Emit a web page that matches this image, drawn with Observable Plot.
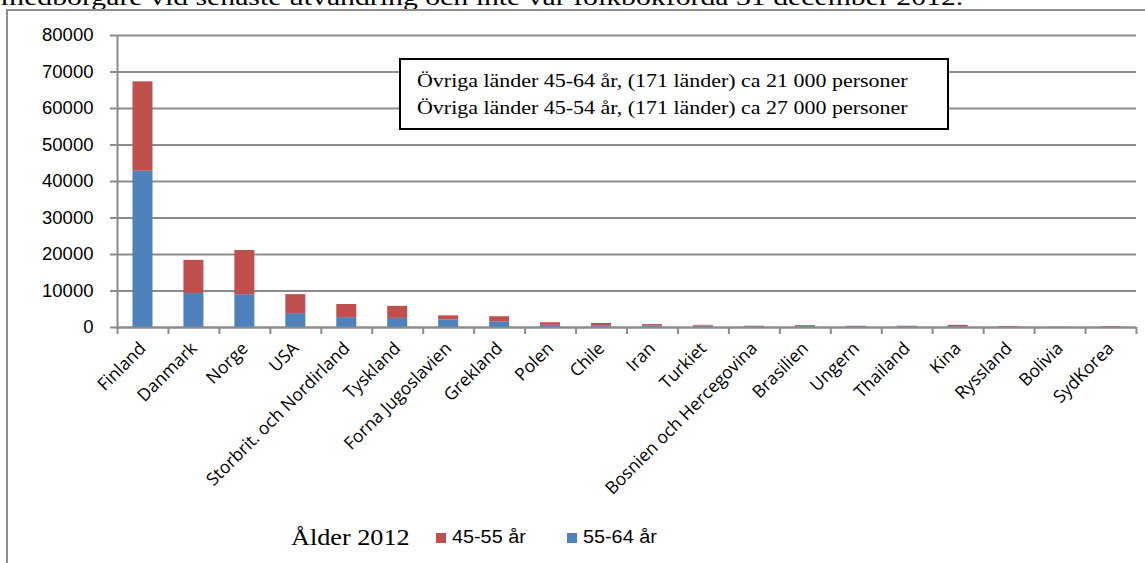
<!DOCTYPE html>
<html>
<head>
<meta charset="utf-8">
<script src="https://cdn.jsdelivr.net/npm/d3@7"></script>
<script src="https://cdn.jsdelivr.net/npm/@observablehq/plot@0.6"></script>
<style>
  body { margin: 0; background: #fff; }
  #wrap { position: relative; width: 1145px; height: 563px; overflow: hidden; background: #fff; }
  #title { position: absolute; left: 1px; top: -16px; font: 24px "Liberation Serif", serif; white-space: nowrap; color: #000;
           transform: scaleX(1.24); transform-origin: 0 0; }
  #frame { position: absolute; left: 6px; top: 9px; width: 1300px; height: 700px; border: 2px solid #8e8e8e; box-sizing: border-box; }
  #chart { position: absolute; left: 0; top: 0; }
  #note { position: absolute; left: 399px; top: 58px; width: 550px; height: 72px; border: 2px solid #000; background: #fff;
          box-sizing: border-box; padding: 8px 0 0 16px; color: #000; }
  #note div { font: 18px "Liberation Serif", serif; line-height: 27px; white-space: nowrap;
              transform: scaleX(1.22); transform-origin: 0 0; }
  #legend { position: absolute; left: 0; top: 0; width: 1145px; height: 563px; color: #000; }
  #legend span { position: absolute; white-space: nowrap; }
  #legend .head { font: 23px "Liberation Serif", serif; transform: scaleX(1.14); transform-origin: 0 0; }
  #legend .lbl { font: 18px "Liberation Sans", sans-serif; transform: scaleX(1.1); transform-origin: 0 0; }
  #legend .sw { width: 10px; height: 10px; }
</style>
</head>
<body>
<div id="wrap">
  <div id="title">medborgare vid senaste utvandring och inte var folkbokförda 31 december 2012.</div>
  <div id="frame"></div>
  <div id="chart"></div>
  <div id="note">
    <div>Övriga länder 45-64 år, (171 länder) ca 21 000 personer</div>
    <div>Övriga länder 45-54 år, (171 länder) ca 27 000 personer</div>
  </div>
  <div id="legend"></div>
</div>
<script>
// Countries of emigration, ordered as in the report
const countries = ["Finland", "Danmark", "Norge", "USA", "Storbrit. och Nordirland", "Tyskland",
  "Forna Jugoslavien", "Grekland", "Polen", "Chile", "Iran", "Turkiet", "Bosnien och Hercegovina",
  "Brasilien", "Ungern", "Thailand", "Kina", "Ryssland", "Bolivia", "SydKorea"];

// Persons aged 55-64 (bottom segment)
const age55to64 = [42800, 9300, 9000, 3800, 2700, 2500, 2100, 1550, 600, 500, 400, 400, 150, 200, 150, 150, 250, 100, 50, 100];
// Persons aged 45-55 (top segment)
const age45to55 = [24500, 9100, 12100, 5200, 3600, 3300, 1100, 1400, 700, 600, 400, 200, 200, 300, 200, 200, 350, 200, 50, 150];

const seriesNames = ["45-55 år", "55-64 år"];
const seriesColors = ["#C0504D", "#4F81BD"];
const yTicks = [0, 10000, 20000, 30000, 40000, 50000, 60000, 70000, 80000];

// Stack the two age groups per country
const rows = countries.flatMap((c, i) => [
  {i, country: c, group: "55-64 år", y1: 0, y2: age55to64[i]},
  {i, country: c, group: "45-55 år", y1: age55to64[i], y2: age55to64[i] + age45to55[i]}
]);

const W = 1145, H = 563;
const ml = 117, mr = 9, mt = 35, mb = 236;
const n = countries.length;
const step = (W - ml - mr) / n;
const barW = 20;
const inset = (step - barW) / 2;
const gray = "#8c8c8c";

const chart = Plot.plot({
  width: W,
  height: H,
  marginLeft: ml,
  marginRight: mr,
  marginTop: mt,
  marginBottom: mb,
  style: {background: "transparent", fontFamily: "Liberation Sans, sans-serif", color: "#000"},
  x: {type: "linear", domain: [0, n]},
  y: {domain: [0, 80000]},
  color: {domain: seriesNames, range: seriesColors},
  marks: [
    Plot.gridY({ticks: yTicks, stroke: gray, strokeOpacity: 1, strokeWidth: 2}),
    Plot.rect(rows, {x1: d => d.i, x2: d => d.i + 1, y1: "y1", y2: "y2", fill: "group",
      insetLeft: inset, insetRight: inset}),
    Plot.ruleX([0], {stroke: gray, strokeWidth: 2}),
    Plot.ruleY([0], {stroke: gray, strokeWidth: 2}),
    Plot.axisY({ticks: yTicks, tickSize: 7, tickPadding: 17, tickFormat: d => String(d),
      fontSize: 18.5, stroke: gray, strokeWidth: 2, fill: "#000", label: null}),
    Plot.axisX({ticks: d3.range(n + 1), tickSize: 7, tickFormat: () => "", stroke: gray, strokeWidth: 2, label: null}),
    Plot.axisX({ticks: countries.map((c, i) => i + 0.5), tickSize: 0, tickPadding: 18, tickRotate: -45,
      tickFormat: v => countries[Math.floor(v)], fontSize: 17.5, fontFamily: "Open Sans, sans-serif",
      fill: "#000", label: null})
  ]
});
document.getElementById("chart").appendChild(chart);

// Legend row beneath the bars
const legend = document.getElementById("legend");
function place(cls, text, left, top, bg) {
  const s = document.createElement("span");
  s.className = cls;
  if (text) s.textContent = text;
  if (bg) s.style.background = bg;
  s.style.left = left + "px";
  s.style.top = top + "px";
  legend.appendChild(s);
}
place("head", "Ålder 2012", 291, 525);
const swX = [436, 567];
seriesNames.forEach((name, k) => {
  place("sw", "", swX[k], 533, seriesColors[k]);
  place("lbl", name, swX[k] + 16, 527);
});
</script>
</body>
</html>
